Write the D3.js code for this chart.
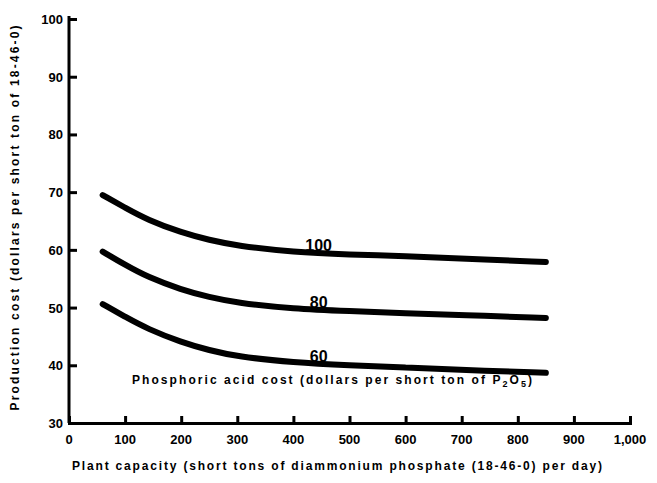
<!DOCTYPE html>
<html>
<head>
<meta charset="utf-8">
<script src="https://cdn.jsdelivr.net/npm/d3@7"></script>
<style>
  body { margin: 0; background: #fff; }
  text { font-family: "Liberation Sans", Arial, sans-serif; font-weight: bold; fill: #000; }
</style>
</head>
<body>
<div class="chart"></div>
<script>
// plant capacity (short tons per day)
const capacity = [60, 100, 140, 200, 250, 300, 400, 500, 600, 700, 850];
// production cost, $ per short ton of 18-46-0, for each phosphoric acid cost
const cost100 = [69.5, 67.3, 65.2, 63.0, 61.7, 60.7, 59.6, 59.2, 58.9, 58.5, 57.9];
const cost80  = [59.7, 57.4, 55.3, 53.1, 51.8, 50.8, 49.8, 49.4, 49.0, 48.7, 48.2];
const cost60  = [50.6, 48.4, 46.3, 44.0, 42.6, 41.5, 40.5, 40.0, 39.6, 39.2, 38.7];
const acidCosts = ["100", "80", "60"];
const labelAt = 445;

const xTicks = [0, 100, 200, 300, 400, 500, 600, 700, 800, 900, 1000];
const xTickLabels = ["0", "100", "200", "300", "400", "500", "600", "700", "800", "900", "1,000"];
const yTicks = [30, 40, 50, 60, 70, 80, 90, 100];

const width = 657;
const height = 483;

const svg = d3.select('.chart')
  .append('svg')
  .attr('width', width)
  .attr('height', height)

const x = d3.scaleLinear().domain([0, 1000]).range([69, 630]);
const y = d3.scaleLinear().domain([30, 100]).range([423, 19]);

// axes
const xAxis = svg.append("g")
  .attr("transform", `translate(0,${y(30)})`)
  .call(d3.axisTop(x).tickValues(xTicks).tickSize(7).tickFormat(""))
xAxis.selectAll("path,line").attr("stroke", "#000").attr("stroke-width", 3)

svg.selectAll('.xlab')
  .data(xTicks)
  .enter()
  .append("text")
  .attr("class", "xlab")
  .attr("x", d => x(d))
  .attr("y", 444)
  .attr("font-size", 13)
  .attr("text-anchor", "middle")
  .text((d, i) => xTickLabels[i])

const yAxis = svg.append("g")
  .attr("transform", `translate(${x(0)},0)`)
  .call(d3.axisRight(y).tickValues(yTicks).tickSize(8).tickFormat(""))
yAxis.selectAll("path,line").attr("stroke", "#000").attr("stroke-width", 3)
yAxis.select(".domain").attr("d", `M0,${y(30)}V${y(100) - 3}`)

svg.selectAll('.ylab')
  .data(yTicks)
  .enter()
  .append("text")
  .attr("class", "ylab")
  .attr("x", 63)
  .attr("y", d => y(d) + 5)
  .attr("font-size", 13)
  .attr("text-anchor", "end")
  .text(d => d)

// curves
const line = d3.line()
  .x((d, i) => x(capacity[i]))
  .y(d => y(d))
  .curve(d3.curveBasis)

const series = [cost100, cost80, cost60];
svg.selectAll('.curve')
  .data(series)
  .enter()
  .append("path")
  .attr("class", "curve")
  .attr("d", d => line(d))
  .attr("fill", "none")
  .attr("stroke", "#000")
  .attr("stroke-width", 6)
  .attr("stroke-linecap", "round")

// curve labels sit on the lines
const interp = (vals, v) => {
  const i = d3.bisectRight(capacity, v) - 1;
  const t = (v - capacity[i]) / (capacity[i + 1] - capacity[i]);
  return vals[i] + t * (vals[i + 1] - vals[i]);
}
svg.selectAll('.clab')
  .data(series)
  .enter()
  .append("text")
  .attr("class", "clab")
  .attr("x", x(labelAt))
  .attr("y", d => y(interp(d, labelAt)) - 2)
  .attr("font-size", 16)
  .attr("font-weight", 900)
  .attr("text-anchor", "middle")
  .text((d, i) => acidCosts[i])

svg.append("text")
  .attr("x", 332)
  .attr("y", 384)
  .attr("font-size", 12)
  .attr("text-anchor", "middle")
  .attr("textLength", 400)
  .html("Phosphoric acid cost (dollars per short ton of P<tspan dy='3' font-size='9'>2</tspan><tspan dy='-3'>O</tspan><tspan dy='3' font-size='9'>5</tspan><tspan dy='-3'>)</tspan>")

// axis titles
svg.append("text")
  .attr("x", 337)
  .attr("y", 470)
  .attr("font-size", 12)
  .attr("text-anchor", "middle")
  .attr("textLength", 530)
  .text("Plant capacity (short tons of diammonium phosphate (18-46-0) per day)")

svg.append("text")
  .attr("transform", "translate(19,218) rotate(-90)")
  .attr("font-size", 12)
  .attr("text-anchor", "middle")
  .attr("textLength", 385)
  .text("Production cost (dollars per short ton of 18-46-0)")
</script>
</body>
</html>
